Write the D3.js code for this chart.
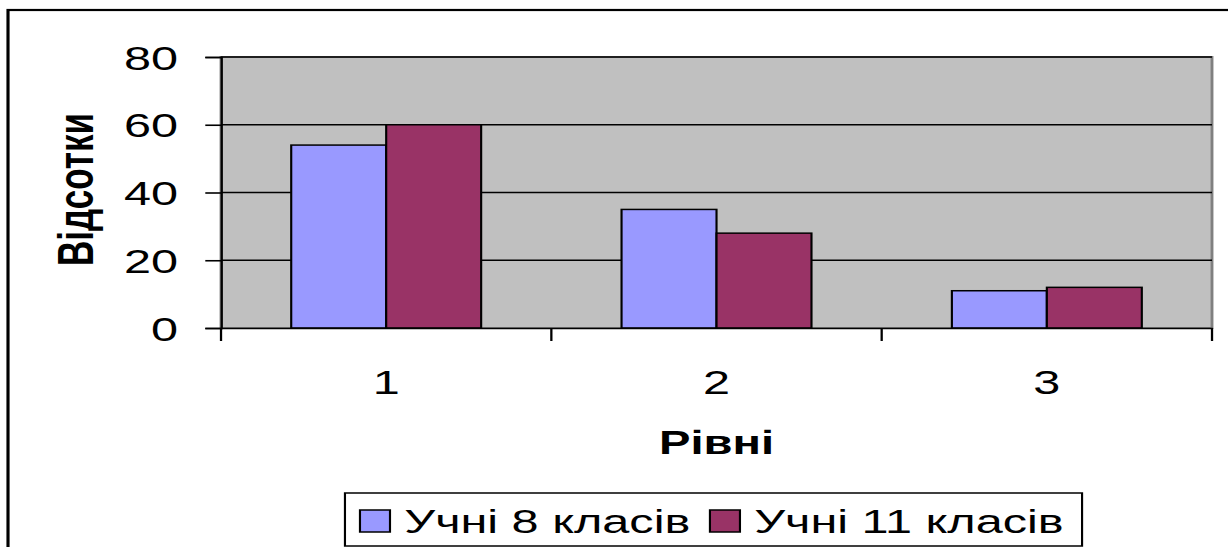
<!DOCTYPE html>
<html>
<head>
<meta charset="utf-8">
<script src="https://cdn.jsdelivr.net/npm/d3@7"></script>
<style>
  html, body { margin: 0; padding: 0; background: #fff; overflow: hidden; }
  svg { display: block; }
  text { font-family: "Liberation Sans", Arial, sans-serif; fill: #000; }
</style>
</head>
<body>
<svg id="chart"></svg>
<script>
// values
const categories = ["1", "2", "3"];
const seriesNames = ["Учні 8 класів", "Учні 11 класів"];
const grade8 = [54, 35, 11];
const grade11 = [60, 28, 12];
const yTicks = [0, 20, 40, 60, 80];
const colors = ["#9999FF", "#993366"];

// the original chart is stretched horizontally, so draw in a narrower box
const pxW = 1228, pxH = 547;
const stretch = 1.4296;
const W = pxW / stretch, H = pxH;

const svg = d3.select("#chart")
    .attr("width", pxW)
    .attr("height", pxH)
    .attr("viewBox", `0 0 ${W} ${H}`)
    .attr("preserveAspectRatio", "none");

// outer frame
svg.append("rect")
    .attr("x", 5.6).attr("y", 10)
    .attr("width", W + 10).attr("height", H + 10)
    .attr("fill", "#fff")
    .attr("stroke", "#000")
    .attr("stroke-width", 2.2);

const plot = {left: 154.6, right: 847.8, top: 57, bottom: 328};

const x0 = d3.scaleBand()
    .domain(categories)
    .range([plot.left, plot.right])
    .paddingInner(0.425)
    .paddingOuter(0.2125);

const x1 = d3.scaleBand()
    .domain(seriesNames)
    .range([0, x0.bandwidth()]);

const y = d3.scaleLinear()
    .domain([0, 80])
    .range([plot.bottom, plot.top]);

// plot area
svg.append("rect")
    .attr("x", plot.left).attr("y", plot.top)
    .attr("width", plot.right - plot.left)
    .attr("height", plot.bottom - plot.top)
    .attr("fill", "#C0C0C0")
    .attr("stroke", "#808080")
    .attr("stroke-width", 2);

// gridlines
svg.append("g")
    .selectAll("line")
    .data(yTicks.filter(d => d > 0))
    .enter()
    .append("line")
    .attr("x1", plot.left).attr("x2", plot.right)
    .attr("y1", d => y(d)).attr("y2", d => y(d))
    .attr("stroke", "#000")
    .attr("stroke-width", 1.6);

// bars
const rows = categories.map((c, i) => ({cat: c, vals: [grade8[i], grade11[i]]}));
const groups = svg.append("g")
    .selectAll("g")
    .data(rows)
    .enter()
    .append("g")
    .attr("transform", d => `translate(${x0(d.cat)},0)`);

groups.selectAll("rect")
    .data(d => d.vals.map((v, j) => ({name: seriesNames[j], v: v, j: j})))
    .enter()
    .append("rect")
    .attr("x", d => x1(d.name))
    .attr("y", d => y(d.v))
    .attr("width", x1.bandwidth())
    .attr("height", d => y(0) - y(d.v))
    .attr("fill", d => colors[d.j])
    .attr("stroke", "#000")
    .attr("stroke-width", 1.5);

// y axis
const yAxis = svg.append("g")
    .attr("transform", `translate(${plot.left},0)`)
    .call(d3.axisLeft(y).tickValues(yTicks).tickSize(11).tickPadding(19));
yAxis.select(".domain").attr("stroke", "#000").attr("stroke-width", 1.6);
yAxis.selectAll(".tick line").attr("stroke", "#000").attr("stroke-width", 1.6);
yAxis.selectAll(".tick text")
    .attr("font-size", 34)
    .attr("font-family", "Liberation Sans, Arial, sans-serif")
    .attr("dy", "0.36em");

// x axis: ticks between categories, labels centred
const xAxis = svg.append("g")
    .attr("transform", `translate(0,${plot.bottom})`)
    .call(d3.axisBottom(x0).tickSize(0).tickPadding(42));
xAxis.select(".domain").attr("stroke", "#000").attr("stroke-width", 1.6);
xAxis.selectAll(".tick text")
    .attr("font-size", 34)
    .attr("font-family", "Liberation Sans, Arial, sans-serif");

const step = x0.step();
const bounds = d3.range(categories.length + 1).map(i => plot.left + i * step);
svg.append("g")
    .selectAll("line")
    .data(bounds)
    .enter()
    .append("line")
    .attr("x1", d => d).attr("x2", d => d)
    .attr("y1", plot.bottom).attr("y2", plot.bottom + 13)
    .attr("stroke", "#000")
    .attr("stroke-width", 1.6);

// axis titles
svg.append("text")
    .attr("x", (plot.left + plot.right) / 2)
    .attr("y", 454)
    .attr("text-anchor", "middle")
    .attr("font-size", 33)
    .attr("font-weight", "bold")
    .text("Рівні");

svg.append("text")
    .attr("transform", `translate(65,${(plot.top + plot.bottom) / 2 - 3}) rotate(-90)`)
    .attr("text-anchor", "middle")
    .attr("font-size", 35)
    .attr("font-weight", "bold")
    .text("Відсотки");

// legend
const legend = svg.append("g");
legend.append("rect")
    .attr("x", 241.3).attr("y", 493)
    .attr("width", 515.6).attr("height", 53)
    .attr("fill", "#fff")
    .attr("stroke", "#000")
    .attr("stroke-width", 1.5);

const legX = [251.8, 496.6];
const items = legend.selectAll("g.item")
    .data(seriesNames)
    .enter()
    .append("g")
    .attr("class", "item")
    .attr("transform", (d, i) => `translate(${legX[i]},0)`);

items.append("rect")
    .attr("x", 0).attr("y", 510)
    .attr("width", 21).attr("height", 22)
    .attr("fill", (d, i) => colors[i])
    .attr("stroke", "#000")
    .attr("stroke-width", 1.5);

items.append("text")
    .attr("x", 31)
    .attr("y", 533)
    .attr("font-size", 34)
    .text(d => d);
</script>
</body>
</html>
